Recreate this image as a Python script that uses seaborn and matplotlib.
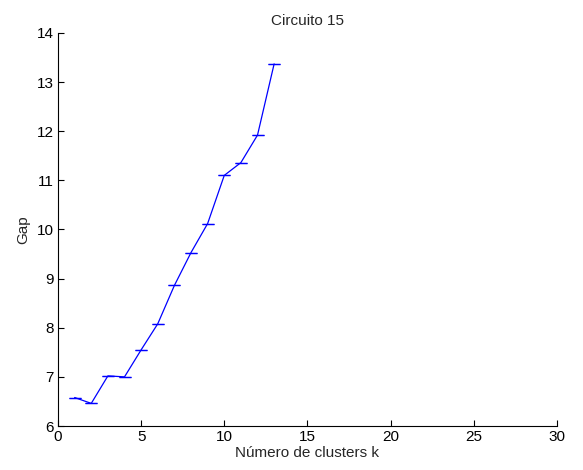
import matplotlib
matplotlib.use("Agg")
import matplotlib.pyplot as plt
import seaborn as sns
import pandas as pd

k = [1, 2, 3, 4, 5, 6, 7, 8, 9, 10, 11, 12, 13]
gap = [6.58, 6.46, 7.02, 7.00, 7.55, 8.08, 8.86, 9.53, 10.12, 11.10, 11.36, 11.92, 13.37]
err = [0.0] * 13
x_ticks = [0, 5, 10, 15, 20, 25, 30]
y_ticks = [6, 7, 8, 9, 10, 11, 12, 13, 14]

sns.set_style("white")
plt.rcParams['font.family'] = ['Liberation Sans', 'DejaVu Sans']

fig = plt.figure(figsize=(5.83, 4.70), dpi=100)
ax = fig.add_axes([0.0995, 0.0936, 0.8555, 0.8364])

df = pd.DataFrame({"k": k, "gap": gap})
sns.lineplot(data=df, x="k", y="gap", ax=ax, color="#0000ff", linewidth=0.9)
ax.errorbar(k, gap, yerr=err, fmt="none", ecolor="#0000ff", elinewidth=0.9,
            capsize=4.5, capthick=0.9)

ax.set_xlim(0, 30)
ax.set_ylim(6, 14)
ax.set_xticks(x_ticks)
ax.set_yticks(y_ticks)
ax.tick_params(direction="in", length=4, width=0.8, labelsize=11, colors="black",
               left=True, bottom=True, top=False, right=False, pad=3)
for s in ["top", "right"]:
    ax.spines[s].set_visible(False)
for s in ["left", "bottom"]:
    ax.spines[s].set_color("black")
    ax.spines[s].set_linewidth(0.8)

ax.set_xlabel("Número de clusters k", fontsize=11, labelpad=1)
ax.set_ylabel("Gap", fontsize=11, labelpad=5)
ax.set_title("Circuito 15", fontsize=11, pad=6)

fig.savefig("out.png", dpi=100)
